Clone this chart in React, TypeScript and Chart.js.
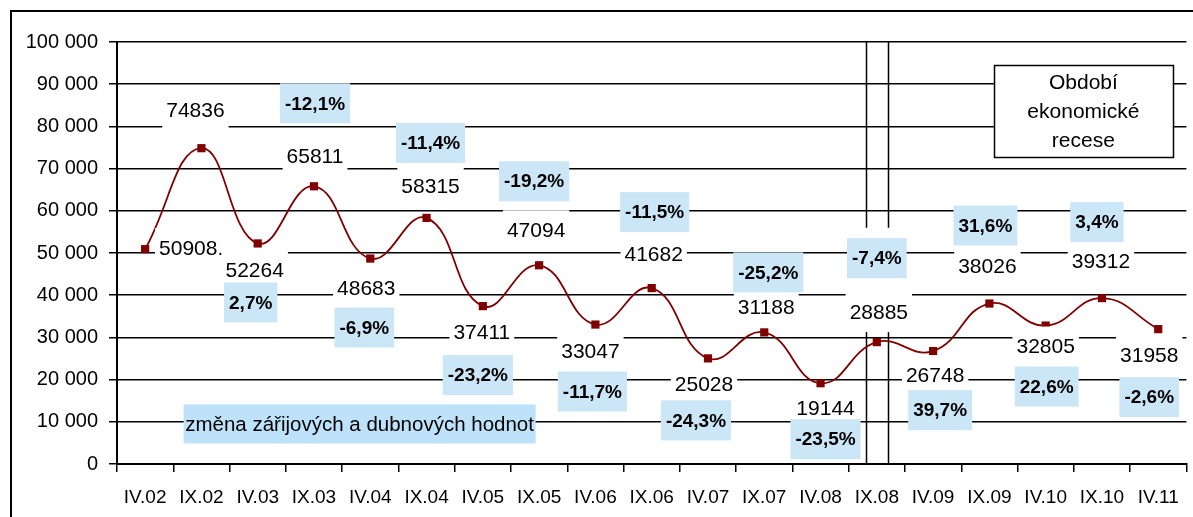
import React, { useEffect, useRef } from "react";
import { Chart, registerables } from "chart.js";

Chart.register(...registerables);

const CATEGORIES = [
  "IV.02", "IX.02", "IV.03", "IX.03", "IV.04", "IX.04", "IV.05", "IX.05", "IV.06", "IX.06",
  "IV.07", "IX.07", "IV.08", "IX.08", "IV.09", "IX.09", "IV.10", "IX.10", "IV.11",
];

const VALUES = [
  50908, 74836, 52264, 65811, 48683, 58315, 37411, 47094, 33047, 41682,
  25028, 31188, 19144, 28885, 26748, 38026, 32805, 39312, 31958,
];

const VALUE_LABELS = [
  "50908.", "74836", "52264", "65811", "48683", "58315", "37411", "47094", "33047", "41682",
  "25028", "31188", "19144", "28885", "26748", "38026", "32805", "39312", "31958",
];

// change vs. the same month one year earlier
const PCT_LABELS = [
  null, null, "2,7%", "-12,1%", "-6,9%", "-11,4%", "-23,2%", "-19,2%", "-11,7%", "-11,5%",
  "-24,3%", "-25,2%", "-23,5%", "-7,4%", "39,7%", "31,6%", "22,6%", "3,4%", "-2,6%",
];

const LEGEND_TEXT = "změna zářijových a dubnových hodnot";
const RECESSION_TEXT = ["Období", "ekonomické", "recese"];
const RECESSION_CATEGORY = 13;

// layout: pixel offsets of the labels from their points
const VALUE_LABEL_OFFSETS = [
  [46, -1], [-6, -38], [-3, 27], [1, -30], [-4, 30], [4, -32], [-1, 26], [-3, -35], [-5, 27], [2, -34],
  [-4, 26], [2, -25], [5, 25], [2, -30], [2, 24], [-2, -37], [0, 21], [-1, -37], [-9, 26],
];
const PCT_LABEL_OFFSETS = [
  null, null, [-7, 59], [1, -83], [-6, 69], [4, -75], [-5, 69], [-5, -84], [-3, 67], [3, -76],
  [-12, 62], [4, -60], [5, 56], [0, -84], [7, 59], [-4, -78], [1, 61], [-5, -76], [-9, 68],
];

const FONT = "'Liberation Sans', Arial, Helvetica, sans-serif";

const formatThousands = (v: number) =>
  String(v).replace(/\B(?=(\d{3})+(?!\d))/g, " ");

const annotations = {
  id: "annotations",
  beforeDatasetsDraw(chart: any) {
    const { ctx, chartArea, scales } = chart;
    const x = scales.x;
    const y = scales.y;
    const half = (x.getPixelForValue(1) - x.getPixelForValue(0)) * 0.19;
    const cx = x.getPixelForValue(RECESSION_CATEGORY);
    const gapTop = y.getPixelForValue(56000);
    const gapBottom = y.getPixelForValue(31800);
    ctx.save();
    ctx.strokeStyle = "#000";
    ctx.lineWidth = 1.5;
    for (const px of [cx - half, cx + half]) {
      const xx = Math.round(px) + 0.5;
      ctx.beginPath();
      ctx.moveTo(xx, chartArea.top);
      ctx.lineTo(xx, gapTop);
      ctx.moveTo(xx, gapBottom);
      ctx.lineTo(xx, chartArea.bottom);
      ctx.stroke();
    }
    ctx.restore();
  },
  afterDatasetsDraw(chart: any) {
    const { ctx, scales } = chart;
    const meta = chart.getDatasetMeta(0);
    ctx.save();
    ctx.textAlign = "center";
    ctx.textBaseline = "middle";

    // value labels (white background)
    ctx.font = `21px ${FONT}`;
    meta.data.forEach((pt: any, i: number) => {
      const [dx, dy] = VALUE_LABEL_OFFSETS[i];
      const lx = pt.x + dx;
      const ly = pt.y + dy;
      const w = ctx.measureText(VALUE_LABELS[i]).width + 8;
      ctx.fillStyle = "#fff";
      ctx.fillRect(lx - w / 2, ly - 20, w, 40);
      ctx.fillStyle = "#000";
      ctx.fillText(VALUE_LABELS[i], lx, ly + 1);
    });

    // percentage labels (blue boxes)
    ctx.font = `bold 19px ${FONT}`;
    meta.data.forEach((pt: any, i: number) => {
      const t = PCT_LABELS[i];
      const off = PCT_LABEL_OFFSETS[i];
      if (!t || !off) return;
      const lx = pt.x + off[0];
      const ly = pt.y + off[1];
      const w = ctx.measureText(t).width + 10;
      ctx.fillStyle = "#CBE6F6";
      ctx.fillRect(lx - w / 2, ly - 20, w, 40);
      ctx.fillStyle = "#000";
      ctx.fillText(t, lx, ly + 1);
    });

    // legend box
    {
      const lx = scales.x.getPixelForValue(3.81);
      const ly = scales.y.getPixelForValue(9500);
      const w = 352;
      const h = 39;
      ctx.fillStyle = "#BEE2FA";
      ctx.fillRect(lx - w / 2, ly - h / 2, w, h);
      ctx.fillStyle = "#000";
      ctx.font = `20.5px ${FONT}`;
      ctx.fillText(LEGEND_TEXT, lx, ly + 1);
    }

    // recession box
    {
      const bx = scales.x.getPixelForValue(16.67);
      const by = scales.y.getPixelForValue(83700);
      const w = 179;
      const h = 92;
      ctx.fillStyle = "#fff";
      ctx.fillRect(bx - w / 2, by - h / 2, w, h);
      ctx.strokeStyle = "#000";
      ctx.lineWidth = 1.5;
      ctx.strokeRect(Math.round(bx - w / 2) + 0.5, Math.round(by - h / 2) + 0.5, w, h);
      ctx.fillStyle = "#000";
      ctx.font = `21px ${FONT}`;
      RECESSION_TEXT.forEach((line, k) => {
        ctx.fillText(line, bx, by + (k - 1) * 29 + 1);
      });
    }
    ctx.restore();
  },
  afterDraw(chart: any) {
    const { ctx } = chart;
    ctx.save();
    ctx.strokeStyle = "#000";
    ctx.lineWidth = 2;
    ctx.strokeRect(11, 11, 3000, 3000);
    ctx.restore();
  },
};

export default function App() {
  const canvasRef = useRef<HTMLCanvasElement | null>(null);

  useEffect(() => {
    document.body.style.margin = "0";
    const canvas = canvasRef.current;
    if (!canvas) return;
    const chart = new Chart(canvas, {
      type: "line",
      data: {
        labels: CATEGORIES,
        datasets: [
          {
            data: VALUES,
            borderColor: "#800000",
            borderWidth: 1.8,
            tension: 0.45,
            pointStyle: "rect",
            pointRadius: 5.8,
            pointBackgroundColor: "#800000",
            pointBorderColor: "#800000",
            pointBorderWidth: 0,
            clip: false,
          } as any,
        ],
      },
      options: {
        animation: false,
        responsive: false,
        maintainAspectRatio: false,
        layout: { padding: { top: 42, right: 0, bottom: 0, left: 0 } },
        plugins: {
          legend: { display: false },
          tooltip: { enabled: false },
        },
        scales: {
          x: {
            type: "category",
            offset: true,
            grid: {
              offset: true,
              drawOnChartArea: false,
              drawTicks: true,
              tickLength: 8,
              color: "#000",
              lineWidth: 1.5,
            },
            border: { display: true, color: "#000", width: 2 },
            ticks: {
              color: "#000",
              font: { family: FONT, size: 19 },
              padding: 14,
              maxRotation: 0,
              autoSkip: false,
            },
            afterFit: (s: any) => {
              s.height = 53;
            },
          },
          y: {
            min: 0,
            max: 100000,
            ticks: {
              stepSize: 10000,
              color: "#000",
              font: { family: FONT, size: 20 },
              padding: 11,
              callback: (v: any) => formatThousands(Number(v)),
            },
            grid: { color: "#000", lineWidth: 1.5, tickLength: 8, drawTicks: true },
            border: { display: true, color: "#000", width: 2 },
            afterFit: (s: any) => {
              s.width = 117;
            },
          },
        },
      } as any,
      plugins: [annotations],
    });
    return () => chart.destroy();
  }, []);

  return (
    <div style={{ width: 1193, height: 517, background: "#fff" }}>
      <canvas ref={canvasRef} width={1193} height={517} style={{ display: "block" }} />
    </div>
  );
}
